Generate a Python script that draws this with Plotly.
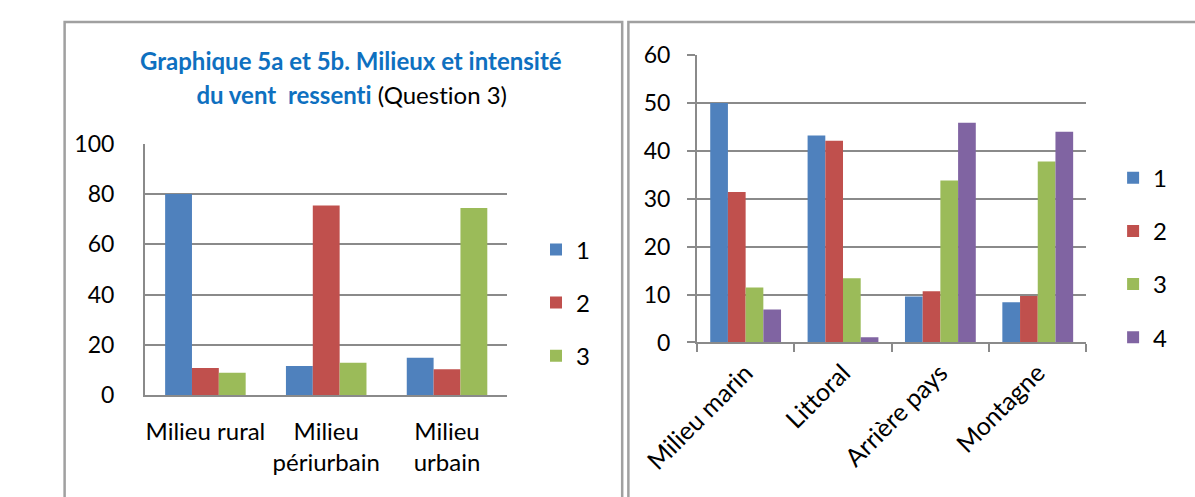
import plotly.graph_objects as go

# Chart 5a: wind intensity by area type (three levels)
cats_a = ["Milieu rural", "Milieu<br>périurbain", "Milieu<br>urbain"]
a_1 = [80.0, 11.6, 14.9]
a_2 = [10.9, 75.5, 10.4]
a_3 = [9.0, 12.9, 74.5]

# Chart 5b: wind intensity by setting (four levels)
cats_b = ["Milieu marin", "Littoral", "Arrière pays", "Montagne"]
b_1 = [50.0, 43.2, 9.6, 8.4]
b_2 = [31.4, 42.1, 10.7, 9.7]
b_3 = [11.5, 13.4, 33.8, 37.8]
b_4 = [6.9, 1.1, 45.9, 44.0]

series_names = ["1", "2", "3", "4"]
colors = ["#4F81BD", "#C0504D", "#9BBB59", "#8064A2"]

W, H = 1195, 497
FONT = "Lato"
GRID = "#8A8A8A"
FRAME = "#A0A0A0"
GAP = 1.5  # gap between groups, in bar widths


def px_x(v):
    return v / W


def px_y(v):
    return 1 - v / H


fig = go.Figure()

groups_a = [a_1, a_2, a_3]
slot_a = 1 / (len(groups_a) + GAP)
for i, vals in enumerate(groups_a):
    fig.add_trace(go.Bar(
        x=cats_a, y=vals, name=series_names[i],
        width=slot_a, offset=(i - len(groups_a) / 2) * slot_a,
        marker=dict(color=colors[i], line=dict(width=0)),
        xaxis="x", yaxis="y", legend="legend", legendgroup="a" + series_names[i],
    ))

groups_b = [b_1, b_2, b_3, b_4]
slot_b = 1 / (len(groups_b) + GAP)
for i, vals in enumerate(groups_b):
    fig.add_trace(go.Bar(
        x=cats_b, y=vals, name=series_names[i],
        width=slot_b, offset=(i - len(groups_b) / 2) * slot_b,
        marker=dict(color=colors[i], line=dict(width=0)),
        xaxis="x2", yaxis="y2", legend="legend2", legendgroup="b" + series_names[i],
    ))

tick_font = dict(family=FONT, size=24, color="#000000")
angled_font = dict(family=FONT, size=25, color="#000000")
ytick_font = dict(family=FONT, size=23, color="#000000")
legend_font = dict(family=FONT, size=24, color="#000000")

fig.update_layout(
    width=W, height=H,
    margin=dict(l=0, r=0, t=0, b=0),
    paper_bgcolor="white", plot_bgcolor="white",
    barmode="overlay",
    showlegend=True,
    xaxis=dict(
        domain=[px_x(92.4), px_x(473)], anchor="y",
        showgrid=False, showline=True, linecolor=GRID, linewidth=2,
        ticks="", tickfont=tick_font, ticklabelstandoff=14,
    ),
    yaxis=dict(
        domain=[px_y(403), px_y(136.5)], anchor="x",
        range=[0, 100], dtick=20, showgrid=True, gridcolor=GRID, gridwidth=2,
        showline=True, linecolor=GRID, linewidth=2, zeroline=False,
        ticks="", tickfont=ytick_font, ticklabelstandoff=24,
    ),
    xaxis2=dict(
        domain=[px_x(672), px_x(1081)], anchor="y2",
        showgrid=False, showline=True, linecolor=GRID, linewidth=2,
        ticks="outside", ticklen=8, tickwidth=2, tickcolor=GRID,
        tickson="boundaries", tickangle=-45, tickfont=angled_font,
        ticklabelstandoff=4,
    ),
    yaxis2=dict(
        domain=[px_y(347), px_y(42.5)], anchor="x2",
        range=[0, 60], dtick=10, showgrid=True, gridcolor=GRID, gridwidth=2,
        showline=True, linecolor=GRID, linewidth=2, zeroline=False,
        ticks="outside", ticklen=8, tickwidth=2, tickcolor=GRID,
        tickfont=ytick_font, ticklabelstandoff=12,
    ),
    legend=dict(
        x=px_x(503), y=px_y(225), xanchor="left", yanchor="top",
        font=legend_font, tracegroupgap=19, bgcolor="rgba(0,0,0,0)",
    ),
    legend2=dict(
        x=px_x(1109), y=px_y(149), xanchor="left", yanchor="top",
        font=legend_font, tracegroupgap=19, bgcolor="rgba(0,0,0,0)",
    ),
    shapes=[
        dict(type="rect", xref="paper", yref="paper",
             x0=px_x(8), x1=px_x(593.5), y0=-0.1, y1=px_y(7.5),
             line=dict(color=FRAME, width=2.5), layer="below"),
        dict(type="rect", xref="paper", yref="paper",
             x0=px_x(600), x1=1.1, y0=-0.1, y1=px_y(7.5),
             line=dict(color=FRAME, width=2.5), layer="below"),
    ],
    annotations=[
        dict(text="<b>Graphique 5a et 5b. Milieux et intensité</b>",
             x=px_x(309), y=px_y(48), xref="paper", yref="paper",
             xanchor="center", yanchor="middle", showarrow=False,
             font=dict(family=FONT, size=24, color="#0E70C0")),
        dict(text="<b>du vent\u00a0\u00a0ressenti</b> <span style='color:#000000'>(Question 3)</span>",
             x=px_x(309), y=px_y(84), xref="paper", yref="paper",
             xanchor="center", yanchor="middle", showarrow=False,
             font=dict(family=FONT, size=24, color="#0E70C0")),
    ],
)

# Plain letterforms: no "ti"/"fi" ligatures in the SVG text
no_ligatures = (
    "var s=document.createElement('style');"
    "s.textContent='.main-svg text{font-variant-ligatures:none !important;"
    "font-feature-settings:\"liga\" 0, \"clig\" 0 !important;}';"
    "document.head.appendChild(s);"
)

fig.write_html("out.html", post_script=no_ligatures)
